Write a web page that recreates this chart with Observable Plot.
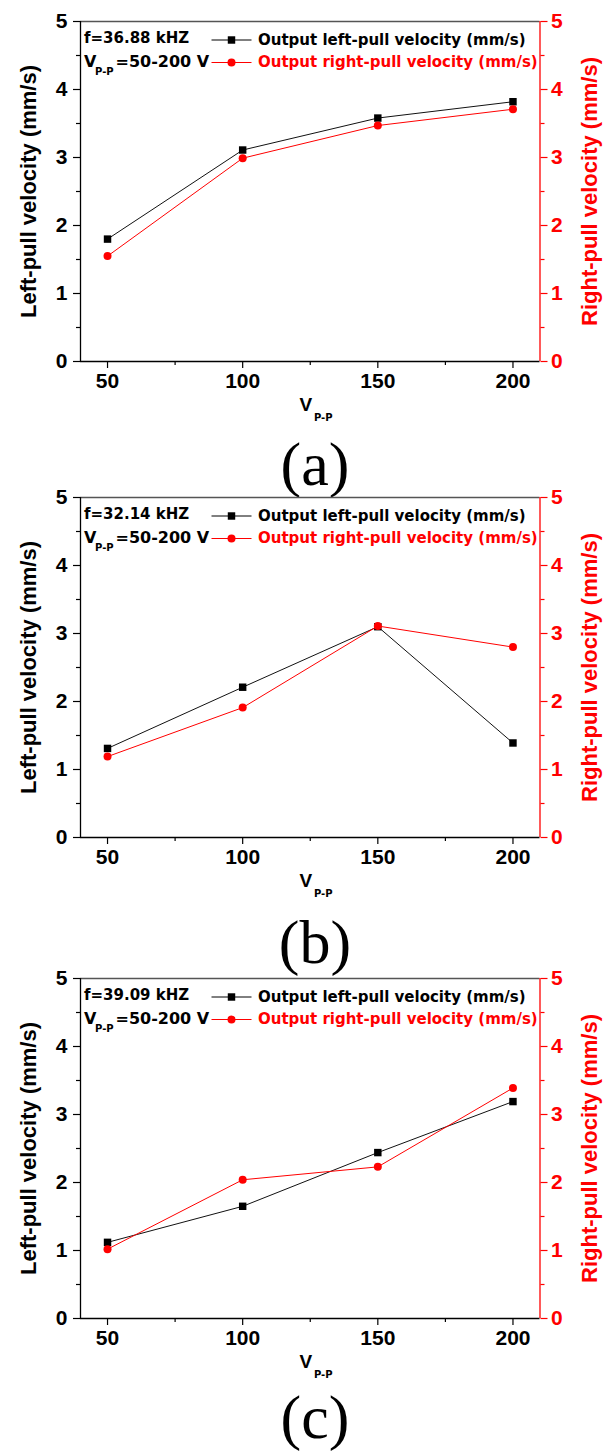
<!DOCTYPE html>
<html>
<head>
<meta charset="utf-8">
<script src="https://cdn.jsdelivr.net/npm/d3@7"></script>
<script src="https://cdn.jsdelivr.net/npm/@observablehq/plot@0.6"></script>
<style>
  body { margin: 0; background: #fff; }
  #root { position: relative; width: 604px; height: 1452px; overflow: hidden; background: #fff; }
  .panel { position: absolute; left: 0; }
  .cap { position: absolute; left: 215px; width: 200px; text-align: center;
         font-family: "Liberation Serif", "Times New Roman", serif; font-size: 62px; line-height: 62px; color: #000; }
</style>
</head>
<body>
<div id="root"></div>
<script>
// ---- data ----
const vpp = [50, 100, 150, 200];
const leftA  = [1.80, 3.11, 3.58, 3.82];
const rightA = [1.55, 2.99, 3.47, 3.71];
const leftB  = [1.31, 2.21, 3.10, 1.39];
const rightB = [1.19, 1.91, 3.11, 2.80];
const leftC  = [1.12, 1.65, 2.44, 3.19];
const rightC = [1.02, 2.04, 2.23, 3.39];
const freqLabels = ["f=36.88 kHZ", "f=32.14 kHZ", "f=39.09 kHZ"];
const captions = ["(a)", "(b)", "(c)"];
const yTicks = [0, 1, 2, 3, 4, 5];
const yMinor = [0.5, 1.5, 2.5, 3.5, 4.5];
const xTicks = [50, 100, 150, 200];
const xMinor = [75, 125, 175];
const leftTitle = "Left-pull velocity (mm/s)";
const rightTitle = "Right-pull velocity (mm/s)";
const legendLeft = "Output left-pull velocity (mm/s)";
const legendRight = "Output right-pull velocity (mm/s)";
const rangeText = "=50-200 V";

// ---- layout ----
const RED = "#ff0000";
const panelTops = [0.5, 476.5, 958];
const captionTops = [433, 911, 1386];
const seriesL = [leftA, leftB, leftC];
const seriesR = [rightA, rightB, rightC];

const hLine = { draw(ctx) { ctx.moveTo(-20, 0); ctx.lineTo(20, 0); } };
const legendFont = "'DejaVu Sans', 'Liberation Sans', sans-serif";

function makePanel(i) {
  const rowsL = vpp.map((v, k) => ({ v, val: seriesL[i][k] }));
  const rowsR = vpp.map((v, k) => ({ v, val: seriesR[i][k] }));
  const fmt = d => String(d);
  const blank = () => "";
  return Plot.plot({
    width: 604, height: 430,
    marginTop: 20, marginBottom: 70, marginLeft: 80, marginRight: 64.5,
    x: { domain: [40, 210], label: null },
    y: { domain: [0, 5], label: null },
    style: { fontFamily: "'Liberation Sans', Arial, sans-serif", fontWeight: "bold", fontSize: "21px",
             background: "transparent", overflow: "visible", color: "#000" },
    marks: [
      // frame
      Plot.ruleY([5], { stroke: "#555", strokeWidth: 1.3 }),
      Plot.ruleY([0], { stroke: "#000", strokeWidth: 1.3 }),
      Plot.ruleX([40], { stroke: "#000", strokeWidth: 1.3 }),
      Plot.ruleX([210], { stroke: RED, strokeWidth: 1.3 }),
      // axes
      Plot.axisY(yTicks, { anchor: "left", tickSize: 7, tickPadding: 6, tickFormat: fmt, label: null, strokeWidth: 1.2 }),
      Plot.axisY(yMinor, { anchor: "left", tickSize: 4, tickFormat: blank, label: null, strokeWidth: 1.2 }),
      Plot.axisY(yTicks, { anchor: "right", color: RED, tickSize: 7, tickPadding: 4, tickFormat: fmt, label: null, strokeWidth: 1.2 }),
      Plot.axisY(yMinor, { anchor: "right", color: RED, tickSize: 4, tickFormat: blank, label: null, strokeWidth: 1.2 }),
      Plot.axisX(xTicks, { anchor: "bottom", tickSize: 7, tickPadding: 5, tickFormat: fmt, label: null, strokeWidth: 1.2 }),
      Plot.axisX(xMinor, { anchor: "bottom", tickSize: 4, tickFormat: blank, label: null, strokeWidth: 1.2 }),
      // axis titles
      Plot.text([leftTitle], { text: d => d, frameAnchor: "left", textAnchor: "middle", lineAnchor: "middle",
                               rotate: -90, dx: -52, fontSize: 22, fill: "#000" }),
      Plot.text([rightTitle], { text: d => d, frameAnchor: "right", textAnchor: "middle", lineAnchor: "middle",
                                rotate: -90, dx: 50, fontSize: 22, fill: RED }),
      Plot.text(["V"], { text: d => d, frameAnchor: "bottom", textAnchor: "middle", lineAnchor: "middle",
                         dx: -4.5, dy: 43.5, fontSize: 19, fill: "#000" }),
      Plot.text(["P-P"], { text: d => d, frameAnchor: "bottom", textAnchor: "middle", lineAnchor: "middle",
                           dx: 13, dy: 56.5, fontSize: 10, fill: "#000", fontFamily: legendFont }),
      // data
      Plot.line(rowsL, { x: "v", y: "val", stroke: "#111", strokeWidth: 1 }),
      Plot.dot(rowsL, { x: "v", y: "val", symbol: "square", r: 4.2, fill: "#000" }),
      Plot.line(rowsR, { x: "v", y: "val", stroke: RED, strokeWidth: 1 }),
      Plot.dot(rowsR, { x: "v", y: "val", symbol: "circle", r: 4, fill: RED }),
      // legend / annotation
      Plot.text([freqLabels[i]], { text: d => d, frameAnchor: "top-left", textAnchor: "start", lineAnchor: "middle",
                                   dx: 3.5, dy: 16.5, fontSize: 15, fontFamily: legendFont, fill: "#000" }),
      Plot.text(["V"], { text: d => d, frameAnchor: "top-left", textAnchor: "start", lineAnchor: "middle",
                         dx: 3.5, dy: 40.5, fontSize: 16, fontFamily: legendFont, fill: "#000" }),
      Plot.text(["P-P"], { text: d => d, frameAnchor: "top-left", textAnchor: "start", lineAnchor: "middle",
                           dx: 14.5, dy: 50.5, fontSize: 10, fontFamily: legendFont, fill: "#000" }),
      Plot.text([rangeText], { text: d => d, frameAnchor: "top-left", textAnchor: "start", lineAnchor: "middle",
                               dx: 35, dy: 40.5, fontSize: 16, fontFamily: legendFont, fill: "#000" }),
      Plot.dot([0], { frameAnchor: "top-left", dx: 151, dy: 18.5, symbol: hLine, r: 4, stroke: "#000", fill: "none", strokeWidth: 1 }),
      Plot.dot([0], { frameAnchor: "top-left", dx: 151, dy: 18.5, symbol: "square", r: 4.2, fill: "#000" }),
      Plot.dot([0], { frameAnchor: "top-left", dx: 151, dy: 41, symbol: hLine, r: 4, stroke: RED, fill: "none", strokeWidth: 1 }),
      Plot.dot([0], { frameAnchor: "top-left", dx: 151, dy: 41, symbol: "circle", r: 4, fill: RED }),
      Plot.text([legendLeft], { text: d => d, frameAnchor: "top-left", textAnchor: "start", lineAnchor: "middle",
                                dx: 177.5, dy: 18.5, fontSize: 15, fontFamily: legendFont, fill: "#000" }),
      Plot.text([legendRight], { text: d => d, frameAnchor: "top-left", textAnchor: "start", lineAnchor: "middle",
                                 dx: 177.5, dy: 40.5, fontSize: 15, fontFamily: legendFont, fill: RED })
    ]
  });
}

const root = document.getElementById("root");
for (let i = 0; i < 3; i++) {
  const svg = makePanel(i);
  svg.classList.add("panel");
  svg.style.top = panelTops[i] + "px";
  root.appendChild(svg);
  const cap = document.createElement("div");
  cap.className = "cap";
  cap.style.top = captionTops[i] + "px";
  cap.textContent = captions[i];
  root.appendChild(cap);
}
</script>
</body>
</html>
